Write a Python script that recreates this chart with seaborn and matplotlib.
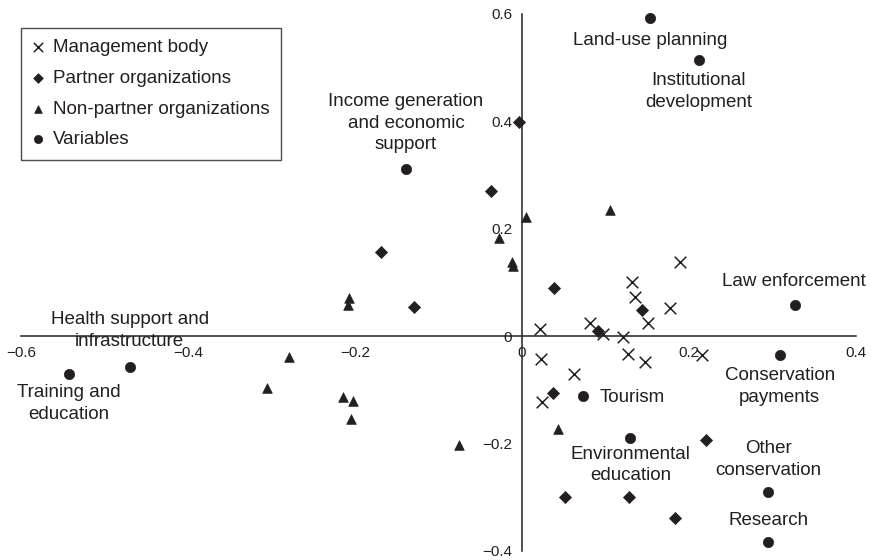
import numpy as np
import pandas as pd
import matplotlib
matplotlib.use("Agg")
import matplotlib.pyplot as plt
import seaborn as sns

# Data
mgmt_x = [0.022, 0.082, 0.097, 0.121, 0.132, 0.135, 0.151, 0.178, 0.189, 0.127, 0.148, 0.216, 0.062, 0.023, 0.024]
mgmt_y = [0.014, 0.024, 0.003, -0.001, 0.101, 0.073, 0.025, 0.053, 0.137, -0.034, -0.048, -0.035, -0.070, -0.042, -0.123]

partner_x = [-0.003, -0.037, -0.169, -0.129, 0.038, 0.144, 0.091, 0.037, 0.052, 0.128, 0.183, 0.220]
partner_y = [0.399, 0.270, 0.157, 0.055, 0.089, 0.048, 0.009, -0.107, -0.300, -0.300, -0.340, -0.193]

nonpartner_x = [0.005, -0.027, -0.012, -0.011, -0.207, -0.208, 0.106, -0.279, -0.305, -0.215, -0.202, -0.205, -0.075, 0.043]
nonpartner_y = [0.221, 0.182, 0.138, 0.130, 0.071, 0.058, 0.235, -0.040, -0.096, -0.113, -0.121, -0.154, -0.203, -0.174]

var_names = ["Land-use planning", "Institutional\ndevelopment", "Income generation\nand economic\nsupport",
             "Law enforcement", "Conservation\npayments", "Tourism", "Environmental\neducation",
             "Other\nconservation", "Research", "Training and\neducation", "Health support and\ninfrastructure"]
var_x = [0.154, 0.212, -0.139, 0.327, 0.309, 0.073, 0.130, 0.295, 0.295, -0.543, -0.470]
var_y = [0.592, 0.515, 0.311, 0.058, -0.035, -0.112, -0.190, -0.290, -0.383, -0.070, -0.057]

x_ticks = [-0.6, -0.4, -0.2, 0, 0.2, 0.4]
x_ticklabels = ["\u22120.6", "\u22120.4", "\u22120.2", "0", "0.2", "0.4"]
y_ticks = [-0.4, -0.2, 0, 0.2, 0.4, 0.6]
y_ticklabels = ["\u22120.4", "\u22120.2", "0", "0.2", "0.4", "0.6"]

# label offsets from each variable dot (pixels: dx right, dy up), and alignment
label_offsets = [(0, -22), (0, -32), (0, 46), (-1, 23), (0, -31.5), (16.6, -1),
                 (0, -27), (0, 32), (0, 21), (0, -30), (0, 36)]
label_ha = ["center"] * 5 + ["left"] + ["center"] * 5

sns.set_theme(style="white")
plt.rcParams["font.family"] = ["Liberation Sans", "DejaVu Sans"]
ink = "#231f20"

mgmt = pd.DataFrame({"x": mgmt_x, "y": mgmt_y})
partner = pd.DataFrame({"x": partner_x, "y": partner_y})
nonpartner = pd.DataFrame({"x": nonpartner_x, "y": nonpartner_y})
variables = pd.DataFrame({"x": var_x, "y": var_y, "name": var_names})

fig = plt.figure(figsize=(8.71, 5.6), dpi=100)
ax = fig.add_axes([21.3 / 871, 9.3 / 560, (855.7 - 21.3) / 871, (550.7 - 14) / 560])

sns.scatterplot(data=mgmt, x="x", y="y", marker="x", s=70, color=ink, linewidth=1.1,
                label="Management body", ax=ax, clip_on=False)
sns.scatterplot(data=partner, x="x", y="y", marker="D", s=38, color=ink, edgecolor=ink, linewidth=0.5,
                label="Partner organizations", ax=ax, clip_on=False)
sns.scatterplot(data=nonpartner, x="x", y="y", marker="^", s=48, color=ink, edgecolor=ink, linewidth=0.5,
                label="Non-partner organizations", ax=ax, clip_on=False)
sns.scatterplot(data=variables, x="x", y="y", marker="o", s=55, color=ink, edgecolor=ink, linewidth=0.5,
                label="Variables", ax=ax, clip_on=False)

for i, row in variables.iterrows():
    dx, dy = label_offsets[i]
    ax.annotate(row["name"], (row["x"], row["y"]), xytext=(dx * 0.72, dy * 0.72),
                textcoords="offset points", ha=label_ha[i], va="center", linespacing=1.35,
                multialignment="center", fontsize=13.5, color=ink, annotation_clip=False)

ax.set_xlim(-0.6, 0.4)
ax.set_ylim(-0.4, 0.6)
ax.set_xticks(x_ticks)
ax.set_xticklabels(x_ticklabels)
ax.set_yticks(y_ticks)
ax.set_yticklabels(y_ticklabels)
ax.set_xlabel("")
ax.set_ylabel("")

ax.spines["left"].set_position(("data", 0))
ax.spines["bottom"].set_position(("data", 0))
ax.spines["top"].set_visible(False)
ax.spines["right"].set_visible(False)
for side in ["left", "bottom"]:
    ax.spines[side].set_color(ink)
    ax.spines[side].set_linewidth(1.1)
ax.tick_params(axis="both", direction="out", length=4, width=1.1, color=ink,
               labelsize=11, labelcolor=ink, pad=3)
ax.patch.set_alpha(0)

leg = ax.legend(loc="upper left", bbox_to_anchor=(21 / 871, 1 - 28 / 560), bbox_transform=fig.transFigure,
                borderaxespad=0, frameon=True, fancybox=False, fontsize=13.5, markerscale=0.8,
                handlelength=0.6, handletextpad=0.5, labelspacing=0.72, borderpad=0.6, labelcolor=ink)
leg.get_frame().set_edgecolor(ink)
leg.get_frame().set_linewidth(1.0)

fig.savefig("out.png", dpi=100)
